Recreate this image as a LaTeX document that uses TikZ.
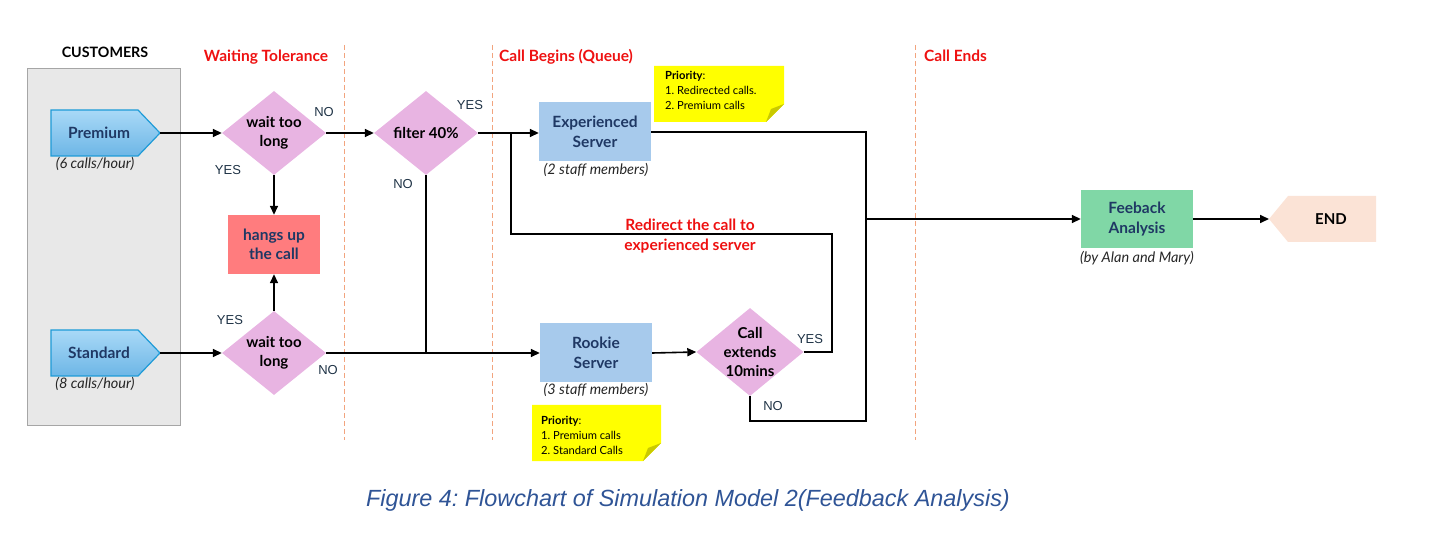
\documentclass[tikz,border=0pt]{standalone}
\usepackage{fontspec}
\setmainfont{Lato}
\newfontfamily\arialf{Liberation Sans}
\usetikzlibrary{shapes.geometric,arrows.meta}
\definecolor{navy}{HTML}{1F3864}
\definecolor{diafill}{HTML}{E8B4E2}
\definecolor{hangfill}{HTML}{FF7C7E}
\definecolor{servfill}{HTML}{A7CAEC}
\definecolor{fbfill}{HTML}{80D7A6}
\definecolor{endfill}{HTML}{FBE3D6}
\definecolor{hred}{HTML}{EE1111}
\definecolor{dashc}{HTML}{F2A47E}
\definecolor{custfill}{HTML}{E8E8E8}
\definecolor{custdraw}{HTML}{A6A6A6}
\definecolor{pentop}{HTML}{A9D9F7}
\definecolor{penbot}{HTML}{6DB6E6}
\definecolor{pendraw}{HTML}{1E9BD7}
\definecolor{notey}{HTML}{FFFF00}
\definecolor{foldc}{HTML}{C9C900}
\definecolor{lblc}{HTML}{1F3346}
\definecolor{capc}{HTML}{2F5496}
\frenchspacing
\begin{document}
\begin{tikzpicture}[x=1pt,y=-1pt,
  conn/.style={line width=1.6pt, black},
  arr/.style={conn, -{Triangle[length=9pt,width=8pt]}},
  dia/.style={shape=diamond, fill=diafill, minimum width=104, minimum height=84, inner sep=0pt},
  ntext/.style={text=navy, font=\fontsize{15.5}{19.5}\selectfont\bfseries, align=center},
  dtext/.style={text=black, font=\fontsize{15}{19}\selectfont\bfseries, align=center},
  serv/.style={rectangle, fill=servfill, minimum width=112, minimum height=59, inner sep=0pt, ntext},
  itl/.style={font=\fontsize{14.5}{17}\selectfont\itshape, text=black!85},
  yn/.style={font=\arialf\fontsize{13}{15}\selectfont, text=lblc},
  head/.style={font=\fontsize{15.5}{18}\selectfont\bfseries, text=hred},
  sep/.style={dashc, line width=0.9pt, dash pattern=on 5pt off 3pt},
  notet/.style={font=\fontsize{11.2}{15}\selectfont, align=left, anchor=north west, inner sep=0pt, text=black}
]
\useasboundingbox (0,0) rectangle (1443,534);

% separators
\draw[sep] (344,45) -- (344,440);
\draw[sep] (492,45) -- (492,440);
\draw[sep] (915,45) -- (915,440);

% headers
\node[font=\fontsize{14.3}{17}\selectfont\bfseries] (hcust) at (105,52) {CUSTOMERS};
\node[head] (hwait) at (266,57) {Waiting Tolerance};
\node[head, anchor=west, inner sep=0pt] (hbeg) at (499,57) {Call Begins (Queue)};
\node[head, anchor=west, inner sep=0pt] (hend) at (924,56) {Call Ends};

% customers box
\node[rectangle, fill=custfill, draw=custdraw, line width=0.9pt, minimum width=153, minimum height=357] (cust) at (103.5,246.5) {};

% premium / standard pentagons
\path[draw=pendraw, line width=1.2pt, top color=pentop, bottom color=penbot] (51,110) -- (138,110) -- (160,133) -- (138,156) -- (51,156) -- cycle;
\node[ntext] (prem) at (99,133) {Premium};
\coordinate (premtip) at (160,133);
\node[itl] (premr) at (95,164) {(6 calls/hour)};

\path[draw=pendraw, line width=1.2pt, top color=pentop, bottom color=penbot] (51,330) -- (138,330) -- (160,353) -- (138,376) -- (51,376) -- cycle;
\node[ntext] (std) at (99,353) {Standard};
\coordinate (stdtip) at (160,353);
\node[itl] (stdr) at (95,384) {(8 calls/hour)};

% decisions
\node[dia] (d1) at (274,133) {};
\node[dtext] (d1t) at (d1) {wait too\\long};
\node[dia] (d2) at (274,353) {};
\node[dtext] (d2t) at (d2) {wait too\\long};
\node[dia] (filt) at (426,133) {};
\node[dtext] (filtt) at (filt) {filter 40\%};
\node[dia, minimum width=107, minimum height=88] (ext) at (750,352) {};
\node[dtext] (extt) at (ext) {Call\\extends\\10mins};

% hang up
\node[rectangle, fill=hangfill, minimum width=92, minimum height=59, ntext] (hang) at (274,244.5) {hangs up\\the call};

% servers
\node[serv] (exp) at (595,132) {Experienced\\Server};
\node[itl] (expr) at (596,170) {(2 staff members)};
\node[serv] (rook) at (596,353) {Rookie\\Server};
\node[itl] (rookr) at (596,390) {(3 staff members)};

% notes
\path[fill=notey] (654,66) -- (784,66) -- (784,104) -- (766,122) -- (654,122) -- cycle;
\path[fill=foldc] (784,104) -- (766,122) -- (771,109) -- cycle;
\node[notet] (n1) at (665,71) {\textbf{Priority}:\\1. Redirected calls.\\2. Premium calls};
\path[fill=notey] (532,405) -- (661,405) -- (661,443) -- (643,461) -- (532,461) -- cycle;
\path[fill=foldc] (661,443) -- (643,461) -- (648,448) -- cycle;
\node[notet] (n2) at (541,416) {\textbf{Priority}:\\1. Premium calls\\2. Standard Calls};

% feedback and end
\node[rectangle, fill=fbfill, minimum width=112, minimum height=58, ntext] (fb) at (1137,219) {Feeback\\Analysis};
\node[itl] (fbr) at (1137,258) {(by Alan and Mary)};
\path[fill=endfill] (1269,219) -- (1288,196) -- (1376,196) -- (1376,242) -- (1288,242) -- cycle;
\node[dtext] (endt) at (1331,219) {END};
\coordinate (endtip) at (1269,219);

% connectors
\draw[arr] (premtip) -- (d1.west);
\draw[arr] (d1.east) -- (filt.west);
\draw[arr] (d1.south) -- (hang.north);
\draw[arr] (stdtip) -- (d2.west);
\draw[arr] (d2.north) -- (hang.south);
\draw[arr] (d2.east) -- (rook.west);
\coordinate (j1) at (426,353);
\draw[conn] (filt.south) -- (j1);
\draw[arr] (filt.east) -- (exp.west |- filt.east);
\coordinate (rA) at (832,234);
\coordinate (rB) at (511,234);
\coordinate (rC) at (511,133);
\draw[conn, line width=2pt] (ext.east) -| (rA) -- (rB) -- (rC);
\node[head, align=center, font=\fontsize{15.5}{20}\selectfont\bfseries] (rlab) at (690,236.5) {Redirect the call to\\experienced server};
\draw[arr] (rook.east) -- (ext.west);
\coordinate (eA) at (866,421);
\draw[conn] (exp.east) -| (eA) -| (ext.south);
\coordinate (jf) at (866,219);
\draw[arr] (jf) -- (fb.west);
\draw[arr] (fb.east) -- (endtip);

% labels
\node[yn] (l1) at (324,112) {NO};
\node[yn] (l2) at (228,170) {YES};
\node[yn] (l3) at (230,320) {YES};
\node[yn] (l4) at (328,370) {NO};
\node[yn] (l5) at (470,105) {YES};
\node[yn] (l6) at (403,184) {NO};
\node[yn] (l7) at (810,339) {YES};
\node[yn] (l8) at (773,406) {NO};

% caption
\node[font=\arialf\fontsize{23.4}{27}\selectfont\itshape, text=capc] (cap) at (688,500) {Figure 4: Flowchart of Simulation Model 2(Feedback Analysis)};
\end{tikzpicture}
\end{document}
